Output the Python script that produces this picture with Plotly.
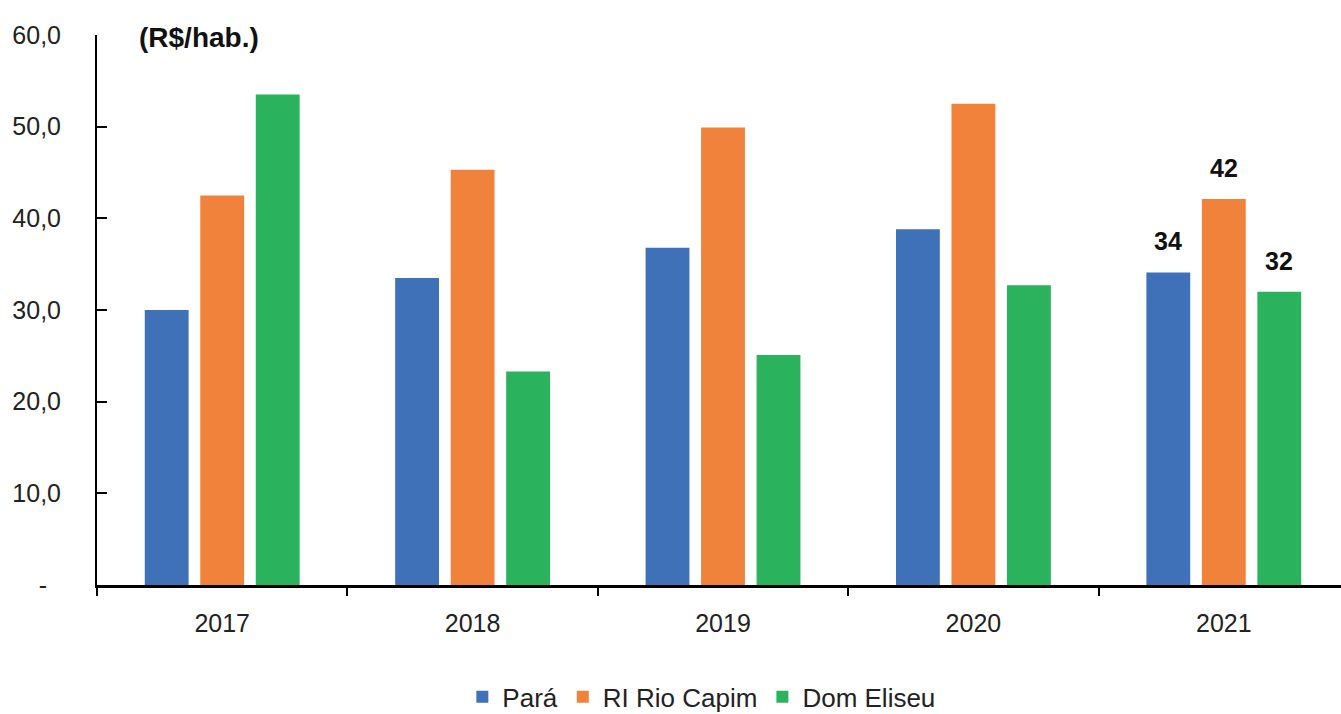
import plotly.graph_objects as go

years = ["2017", "2018", "2019", "2020", "2021"]
para = [30.0, 33.5, 36.8, 38.8, 34.1]
rio_capim = [42.5, 45.3, 49.9, 52.5, 42.1]
dom_eliseu = [53.5, 23.3, 25.1, 32.7, 32.0]
series_names = ["Pará", "RI Rio Capim", "Dom Eliseu"]
colors = ["#3F71B8", "#F0823B", "#2BB25C"]
y_tickvals = [0, 10, 20, 30, 40, 50, 60]
y_ticktext = ["-\u00a0\u00a0", "10,0", "20,0", "30,0", "40,0", "50,0", "60,0"]
labelled_year_index = 4

FONT = "Liberation Sans, Arial, sans-serif"
BARGAP = 0.335
GROUPGAP = 0.21

fig = go.Figure()
all_series = [para, rio_capim, dom_eliseu]
for name, vals, col in zip(series_names, all_series, colors):
    fig.add_trace(go.Bar(x=years, y=vals, name=name, marker_color=col,
                         marker_line_width=0))

# data labels for last year
slot = (1 - BARGAP) / len(all_series)
for i, vals in enumerate(all_series):
    off = (i - (len(all_series) - 1) / 2) * slot
    v = vals[labelled_year_index]
    fig.add_annotation(x=labelled_year_index + off, y=v, xref="x", yref="y",
                       text=f"<b>{round(v):.0f}</b>", showarrow=False,
                       yanchor="bottom", yshift=15,
                       font=dict(family=FONT, size=25, color="#111111"))

fig.add_annotation(x=0.032, y=0.995, xref="paper", yref="paper",
                   text="<b>(R$/hab.)</b>", showarrow=False,
                   xanchor="left", yanchor="middle",
                   font=dict(family=FONT, size=28, color="#111111"))

fig.update_layout(
    width=1341, height=714,
    margin=dict(l=97, r=0, t=35, b=129, autoexpand=False),
    paper_bgcolor="white", plot_bgcolor="white",
    barmode="group", bargap=BARGAP, bargroupgap=GROUPGAP,
    font=dict(family=FONT, size=24, color="#222222"),
    showlegend=True,
    legend=dict(orientation="h", xref="container", x=0.523, xanchor="center",
                yref="container", y=0.024, yanchor="middle",
                font=dict(family=FONT, size=26, color="#222222"),
                itemwidth=30, tracegroupgap=0),
)
fig.update_xaxes(
    type="category", range=[-0.5, 4.468],
    showline=True, linecolor="black", linewidth=3,
    ticks="outside", tickson="boundaries", ticklen=8, tickwidth=2, tickcolor="black",
    ticklabelstandoff=14,
    tickfont=dict(family=FONT, size=25, color="#222222"),
    showgrid=False, zeroline=False,
)
fig.update_yaxes(
    range=[0, 60], tickvals=y_tickvals, ticktext=y_ticktext,
    showline=True, linecolor="black", linewidth=2,
    ticks="inside", ticklen=10, tickwidth=2, tickcolor="black",
    ticklabelstandoff=29,
    tickfont=dict(family=FONT, size=25, color="#222222"),
    showgrid=False, zeroline=False,
)

fig.write_html("out.html", config={"displayModeBar": False},
               post_script="document.body.style.margin='0';document.body.style.overflow='hidden';")
